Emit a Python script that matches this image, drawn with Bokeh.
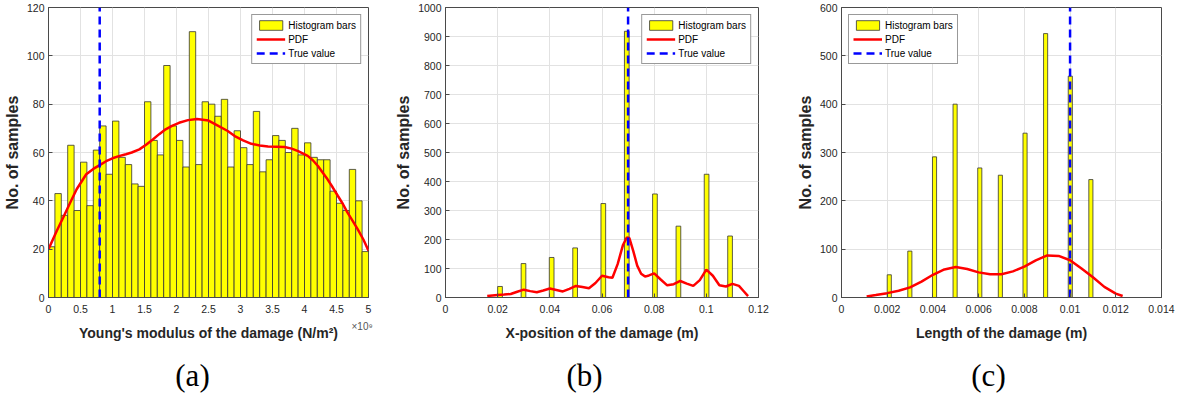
from bokeh.plotting import figure
from bokeh.layouts import row
from bokeh.models import (Range1d, FixedTicker, Legend, LegendItem, Label,
                          NumeralTickFormatter)
from bokeh.embed import file_html
from bokeh.resources import INLINE

# ---------------- panel (a): Young's modulus of the damage (x 1e9 N/m^2) ----------------
young_bin_width = 0.1
young_bin_left = [round(i * 0.1, 1) for i in range(50)]
young_counts = [21, 43, 34, 63, 36, 56, 38, 61, 71, 51,
                73, 58, 55, 47, 46, 81, 65, 59, 96, 71,
                65, 54, 110, 55, 81, 80, 75, 82, 54, 69,
                62, 55, 77, 52, 57, 67, 65, 60, 70, 59,
                64, 58, 57, 57, 44, 39, 36, 53, 40, 19]
young_pdf_x = [0.0, 0.13, 0.23, 0.34, 0.44, 0.59, 0.7, 0.8, 0.9, 1.0, 1.1, 1.21, 1.3, 1.42,
               1.53, 1.63, 1.73, 1.83, 1.93, 2.04, 2.18, 2.32, 2.5, 2.66, 2.8, 2.91, 3.04,
               3.17, 3.3, 3.43, 3.56, 3.69, 3.8, 3.9, 4.05, 4.13, 4.21, 4.28, 4.36, 4.44,
               4.52, 4.6, 4.67, 4.75, 4.83, 4.92, 5.0]
young_pdf_y = [20.0, 27.6, 33.1, 39.3, 44.8, 51.0, 53.2, 54.8, 56.4, 57.6, 58.5, 59.3, 60.0, 61.3,
               63.3, 65.4, 67.6, 69.6, 71.0, 72.3, 73.4, 73.9, 73.2, 70.9, 68.9, 66.8, 65.0,
               63.6, 62.9, 62.5, 62.4, 62.3, 61.6, 60.6, 58.6, 56.8, 54.4, 51.8, 48.9, 45.6,
               42.1, 38.7, 35.2, 31.8, 28.3, 24.0, 19.4]
young_true = 0.8
young_xticks = [0, 0.5, 1, 1.5, 2, 2.5, 3, 3.5, 4, 4.5, 5]
young_xtick_labels = ["0", "0.5", "1", "1.5", "2", "2.5", "3", "3.5", "4", "4.5", "5"]
young_yticks = [0, 20, 40, 60, 80, 100, 120]
young_multiplier = "×10⁹"

# ---------------- panel (b): X-position of the damage (m) ----------------
xpos_bin_width = 0.0018
xpos_bin_left = [0.02, 0.029, 0.0398, 0.0488, 0.0596, 0.0686, 0.0794, 0.0884, 0.0992, 0.1082]
xpos_counts = [38, 117, 138, 171, 324, 918, 357, 246, 425, 212]
xpos_pdf_x = [0.016, 0.018, 0.02, 0.0225, 0.025, 0.0275, 0.03, 0.0325, 0.035, 0.0375, 0.04,
              0.0425, 0.045, 0.0475, 0.05, 0.0525, 0.055, 0.0575, 0.06, 0.0625, 0.064, 0.066,
              0.068, 0.0695, 0.0705, 0.072, 0.0735, 0.075, 0.0765, 0.078, 0.08, 0.0825, 0.085,
              0.0875, 0.09, 0.0925, 0.095, 0.0975, 0.1, 0.1025, 0.105, 0.1075, 0.11, 0.1125,
              0.114, 0.116]
xpos_pdf_y = [5, 7, 9, 10, 12, 20, 27, 22, 18, 24, 31,
              26, 21, 30, 40, 36, 32, 50, 75, 70, 68, 115,
              180, 207, 205, 160, 110, 82, 72, 76, 83, 62, 42,
              46, 57, 48, 40, 60, 96, 75, 42, 38, 47, 40,
              25, 5]
xpos_true = 0.07
xpos_xticks = [0, 0.02, 0.04, 0.06, 0.08, 0.1, 0.12]
xpos_xtick_labels = ["0", "0.02", "0.04", "0.06", "0.08", "0.1", "0.12"]
xpos_yticks = [0, 100, 200, 300, 400, 500, 600, 700, 800, 900, 1000]

# ---------------- panel (c): Length of the damage (m) ----------------
len_bin_width = 0.00018
len_bin_left = [0.002, 0.0029, 0.00398, 0.00488, 0.00596, 0.00686, 0.00794, 0.00884, 0.00992, 0.01082]
len_counts = [47, 96, 291, 400, 268, 253, 340, 546, 458, 244]
len_pdf_x = [0.0011, 0.0015, 0.002, 0.0025, 0.003, 0.0035, 0.004, 0.0045, 0.005, 0.0055, 0.006,
             0.0065, 0.007, 0.0075, 0.008, 0.0085, 0.009, 0.0095, 0.01, 0.0105, 0.011, 0.0115,
             0.012, 0.0123]
len_pdf_y = [2, 5, 9, 14, 21, 33, 47, 58, 63, 59, 52,
             48, 48, 54, 64, 77, 87, 86, 77, 60, 42, 22,
             8, 3]
len_true = 0.01
len_xticks = [0, 0.002, 0.004, 0.006, 0.008, 0.01, 0.012, 0.014]
len_xtick_labels = ["0", "0.002", "0.004", "0.006", "0.008", "0.01", "0.012", "0.014"]
len_yticks = [0, 100, 200, 300, 400, 500, 600]

TXT = "#262626"
EDGE = "#4a4a4a"


def panel(width, bl, br, bb, xr, yr, xticks, xlabels, yticks, fmt, xlabel, tag, tag_x,
          bin_left, bin_w, counts, pdf_x, pdf_y, true_x, legend_loc):
    p = figure(width=width, height=397, output_backend="svg", toolbar_location=None,
               x_range=Range1d(*xr), y_range=Range1d(*yr),
               min_border_left=bl, min_border_right=br, min_border_top=7, min_border_bottom=bb)
    p.background_fill_color = "white"
    p.border_fill_color = "white"
    p.outline_line_color = EDGE
    p.outline_line_width = 1

    r_bar = p.quad(left=bin_left, right=[v + bin_w for v in bin_left], bottom=0, top=counts,
                   fill_color="#FFFF00", line_color="#333333", line_width=0.8)
    r_pdf = p.line(pdf_x, pdf_y, line_color="#FF0000", line_width=2.5)
    r_true = p.line([true_x, true_x], [yr[0], yr[1]], line_color="#0000FF",
                    line_width=2.5, line_dash="8 5")

    p.xaxis.ticker = FixedTicker(ticks=xticks)
    p.xaxis.formatter = NumeralTickFormatter(format=fmt)
    p.xaxis.major_label_overrides = {t: l for t, l in zip(xticks, xlabels)}
    p.yaxis.ticker = FixedTicker(ticks=yticks)
    p.xgrid.ticker = FixedTicker(ticks=xticks)
    p.ygrid.ticker = FixedTicker(ticks=yticks)
    for g in (p.xgrid, p.ygrid):
        g.grid_line_color = "#e2e2e2"
        g.grid_line_width = 1

    for ax in (p.xaxis, p.yaxis):
        ax.axis_line_color = EDGE
        ax.major_tick_line_color = EDGE
        ax.major_tick_in = 4
        ax.major_tick_out = 0
        ax.minor_tick_line_color = None
        ax.major_label_text_font = "Liberation Sans"
        ax.major_label_text_font_size = "10.5px"
        ax.major_label_text_color = TXT
        ax.axis_label_text_font = "Liberation Sans"
        ax.axis_label_text_font_style = "bold"
        ax.axis_label_text_color = TXT
    p.xaxis.major_label_standoff = 7
    p.xaxis.axis_label_standoff = 9
    p.xaxis.axis_label_text_font_size = "14px"
    p.xaxis.axis_label = xlabel
    p.yaxis.major_label_standoff = 4
    p.yaxis.axis_label_standoff = 3
    p.yaxis.axis_label_text_font_size = "16px"
    p.yaxis.axis_label = "No. of samples"

    legend = Legend(items=[LegendItem(label="Histogram bars", renderers=[r_bar]),
                           LegendItem(label="PDF", renderers=[r_pdf]),
                           LegendItem(label="True value", renderers=[r_true])],
                    location=legend_loc)
    legend.border_line_color = "#333333"
    legend.border_line_width = 1
    legend.background_fill_color = "white"
    legend.background_fill_alpha = 1
    legend.label_text_font = "Liberation Sans"
    legend.label_text_font_size = "10px"
    legend.label_text_color = "black"
    legend.glyph_width = 29
    legend.glyph_height = 12
    legend.label_height = 12
    legend.label_standoff = 3
    legend.spacing = 2
    legend.padding = 4
    legend.margin = 7
    p.add_layout(legend)

    p.add_layout(Label(x=tag_x, y=3, x_units="screen", y_units="screen", text=tag,
                       text_font="Liberation Serif", text_font_size="31px",
                       text_color="black", text_align="center", text_baseline="middle"),
                 "below")
    return p


pa = panel(392, 46, 24, 100, (0, 5), (0, 120), young_xticks, young_xtick_labels, young_yticks,
           "0.[0]", "Young's modulus of the damage (N/m²)", "(a)", 144,
           young_bin_left, young_bin_width, young_counts, young_pdf_x, young_pdf_y,
           young_true, "top_right")
pa.add_layout(Label(x=5, y=0, x_units="data", y_units="data", x_offset=-17, y_offset=-29,
                    text=young_multiplier, text_font="Liberation Sans", text_font_size="10px",
                    text_color="#555555", text_baseline="middle", text_align="left"),
              "right")

pb = panel(401, 45, 35, 95, (0, 0.12), (0, 1000), xpos_xticks, xpos_xtick_labels, xpos_yticks,
           "0.[00]", "X-position of the damage (m)", "(b)", 139,
           xpos_bin_left, xpos_bin_width, xpos_counts, xpos_pdf_x, xpos_pdf_y,
           xpos_true, "top_right")

pc = panel(386, 46, 18, 95, (0, 0.014), (0, 600), len_xticks, len_xtick_labels, len_yticks,
           "0.[000]", "Length of the damage (m)", "(c)", 147,
           len_bin_left, len_bin_width, len_counts, len_pdf_x, len_pdf_y,
           len_true, "top_left")

layout = row(pa, pb, pc)
open("out.html", "w").write(file_html(layout, INLINE))
